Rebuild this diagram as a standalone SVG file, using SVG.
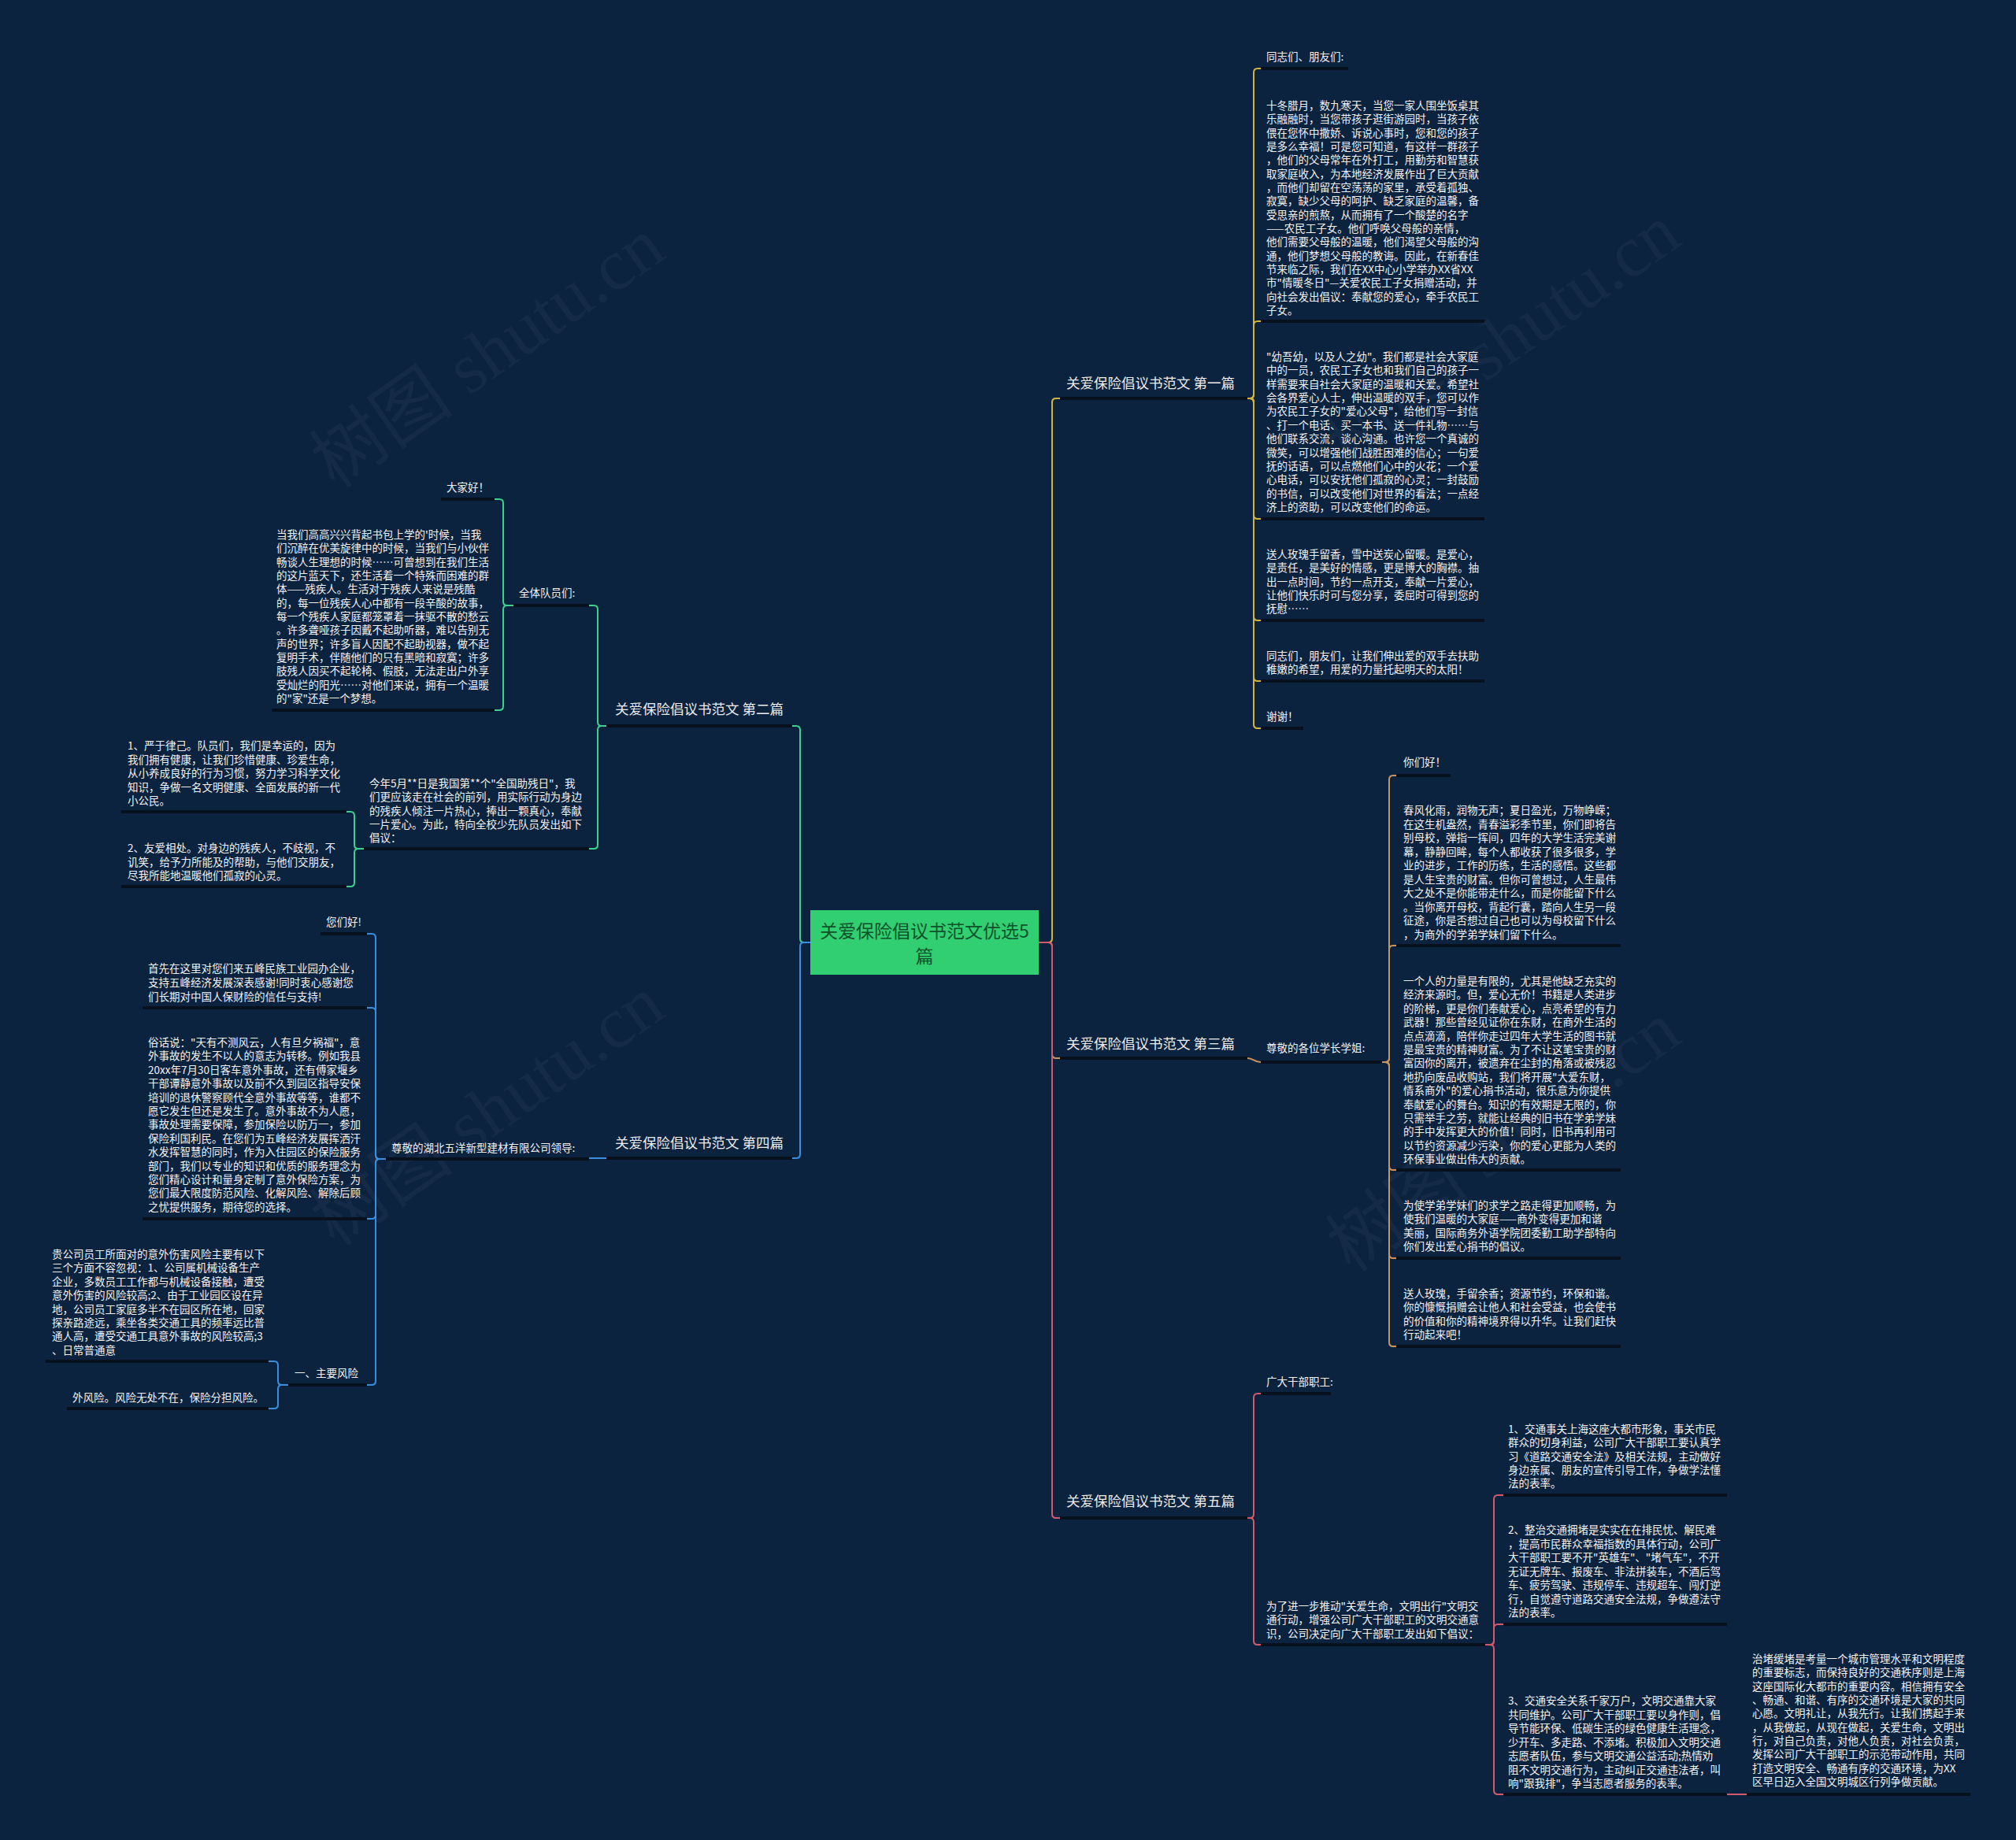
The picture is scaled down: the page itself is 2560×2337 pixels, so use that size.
<svg xmlns="http://www.w3.org/2000/svg" width="2560" height="2337" viewBox="0 0 2560 2337">
<style>
.t{font-family:"Noto Sans CJK SC","Noto Sans",sans-serif;font-size:13.5px;fill:#f2f2f2}
.b{font-family:"Noto Sans CJK SC","Noto Sans",sans-serif;font-size:17.5px;fill:#ececec}
.ul{stroke:#07101d;stroke-width:4;fill:none}
.c{fill:none;stroke-width:2}
.y{stroke:#d4b43c}.g{stroke:#3fcf8e}.o{stroke:#c9955f}.bl{stroke:#3b8ede}.r{stroke:#d25a6a}
.wm{font-family:"Liberation Serif","Noto Sans CJK SC",serif;font-size:92px;fill:#ffffff;fill-opacity:0.035}
</style>
<rect width="2560" height="2337" fill="#0c2340"/>
<g id="watermarks">
<text class="wm" transform="translate(637,474) rotate(-35)" text-anchor="middle">树图 shutu.cn</text>
<text class="wm" transform="translate(1927,457) rotate(-35)" text-anchor="middle">树图 shutu.cn</text>
<text class="wm" transform="translate(637,1437) rotate(-35)" text-anchor="middle">树图 shutu.cn</text>
<text class="wm" transform="translate(1927,1470) rotate(-35)" text-anchor="middle">树图 shutu.cn</text>
</g>
<g id="connectors">
<path class="c y" d="M1319,1197 H1331 Q1336,1197 1336,1192 V511 Q1336,506 1341,506 H1346"/>
<path class="c o" d="M1319,1197 H1331 Q1336,1197 1336,1202 V1339 Q1336,1344 1341,1344 H1346"/>
<path class="c r" d="M1319,1197 H1331 Q1336,1197 1336,1202 V1923 Q1336,1928 1341,1928 H1346"/>
<path class="c g" d="M1029,1197 H1021 Q1016,1197 1016,1192 V927 Q1016,922 1011,922 H1006"/>
<path class="c bl" d="M1029,1197 H1021 Q1016,1197 1016,1202 V1466 Q1016,1471 1011,1471 H1006"/>
<path class="c y" d="M1584,506 H1587 Q1592,506 1592,501 V92 Q1592,87 1597,87 H1601"/>
<path class="c y" d="M1584,506 H1587 Q1592,506 1592,501 V413 Q1592,408 1597,408 H1601"/>
<path class="c y" d="M1584,506 H1587 Q1592,506 1592,511 V654 Q1592,659 1597,659 H1601"/>
<path class="c y" d="M1584,506 H1587 Q1592,506 1592,511 V783 Q1592,788 1597,788 H1601"/>
<path class="c y" d="M1584,506 H1587 Q1592,506 1592,511 V860 Q1592,865 1597,865 H1601"/>
<path class="c y" d="M1584,506 H1587 Q1592,506 1592,511 V920 Q1592,925 1597,925 H1601"/>
<path class="c o" d="M1584,1344 C1592,1344 1592,1349 1601,1349"/>
<path class="c o" d="M1755,1349 H1759 Q1764,1349 1764,1344 V990 Q1764,985 1769,985 H1773"/>
<path class="c o" d="M1755,1349 H1759 Q1764,1349 1764,1344 V1206 Q1764,1201 1769,1201 H1773"/>
<path class="c o" d="M1755,1349 H1759 Q1764,1349 1764,1354 V1481 Q1764,1486 1769,1486 H1773"/>
<path class="c o" d="M1755,1349 H1759 Q1764,1349 1764,1354 V1593 Q1764,1598 1769,1598 H1773"/>
<path class="c o" d="M1755,1349 H1759 Q1764,1349 1764,1354 V1705 Q1764,1710 1769,1710 H1773"/>
<path class="c r" d="M1584,1928 H1587 Q1592,1928 1592,1923 V1775 Q1592,1770 1597,1770 H1601"/>
<path class="c r" d="M1584,1928 H1587 Q1592,1928 1592,1933 V2084 Q1592,2089 1597,2089 H1601"/>
<path class="c r" d="M1886,2089 H1892 Q1897,2089 1897,2084 V1904 Q1897,1899 1902,1899 H1909"/>
<path class="c r" d="M1886,2089 H1892 Q1897,2089 1897,2084 V2068 Q1897,2063 1902,2063 H1909"/>
<path class="c r" d="M1886,2089 H1892 Q1897,2089 1897,2094 V2274 Q1897,2279 1902,2279 H1909"/>
<path class="c r" d="M2193,2279 H2218"/>
<path class="c g" d="M770,922 H764 Q759,922 759,917 V774 Q759,769 754,769 H748"/>
<path class="c g" d="M770,922 H764 Q759,922 759,927 V1073 Q759,1078 754,1078 H748"/>
<path class="c g" d="M652,769 H644 Q639,769 639,764 V639 Q639,634 634,634 H628"/>
<path class="c g" d="M652,769 H644 Q639,769 639,774 V897 Q639,902 634,902 H628"/>
<path class="c g" d="M462,1078 H455 Q450,1078 450,1073 V1036 Q450,1031 445,1031 H440"/>
<path class="c g" d="M462,1078 H455 Q450,1078 450,1083 V1121 Q450,1126 445,1126 H440"/>
<path class="c bl" d="M770,1471 H748"/>
<path class="c bl" d="M490,1472 H482 Q477,1472 477,1467 V1191 Q477,1186 472,1186 H466"/>
<path class="c bl" d="M490,1472 H482 Q477,1472 477,1467 V1285 Q477,1280 472,1280 H466"/>
<path class="c bl" d="M490,1472 H482 Q477,1472 477,1477 V1543 Q477,1548 472,1548 H466"/>
<path class="c bl" d="M490,1472 H482 Q477,1472 477,1477 V1754 Q477,1759 472,1759 H466"/>
<path class="c bl" d="M366,1759 H358 Q353,1759 353,1754 V1734 Q353,1729 348,1729 H341"/>
<path class="c bl" d="M366,1759 H358 Q353,1759 353,1764 V1784 Q353,1789 348,1789 H341"/>
</g>
<g id="center">
<rect x="1029" y="1156" width="290" height="82" fill="#31cf72"/>
<text x="1174" y="1191" text-anchor="middle" style="font-family:'Noto Sans CJK SC','Noto Sans',sans-serif;font-size:23px;fill:#0f5229">关爱保险倡议书范文优选5<tspan x="1174" dy="32">篇</tspan></text>
</g>
<g id="branch1"><line class="ul" x1="1346" y1="506" x2="1584" y2="506"/><text class="b" x="1354" y="493">关爱保险倡议书范文 第一篇</text></g>
<g id="branch2"><line class="ul" x1="770" y1="922" x2="1006" y2="922"/><text class="b" x="781" y="907">关爱保险倡议书范文 第二篇</text></g>
<g id="branch3"><line class="ul" x1="1346" y1="1344" x2="1584" y2="1344"/><text class="b" x="1354" y="1332">关爱保险倡议书范文 第三篇</text></g>
<g id="branch4"><line class="ul" x1="770" y1="1471" x2="1006" y2="1471"/><text class="b" x="781" y="1458">关爱保险倡议书范文 第四篇</text></g>
<g id="branch5"><line class="ul" x1="1346" y1="1928" x2="1584" y2="1928"/><text class="b" x="1354" y="1913">关爱保险倡议书范文 第五篇</text></g>
<g id="n1a"><line class="ul" x1="1601" y1="87" x2="1712" y2="87"/><text class="t" x="1608" y="77">同志们、朋友们:</text></g>
<g id="n1b"><line class="ul" x1="1601" y1="408" x2="1885" y2="408"/><text class="t" x="1608" y="139">十冬腊月，数九寒天，当您一家人围坐饭桌其<tspan x="1608" dy="17.33">乐融融时，当您带孩子逛街游园时，当孩子依</tspan><tspan x="1608" dy="17.33">偎在您怀中撒娇、诉说心事时，您和您的孩子</tspan><tspan x="1608" dy="17.33">是多么幸福！可是您可知道，有这样一群孩子</tspan><tspan x="1608" dy="17.33">，他们的父母常年在外打工，用勤劳和智慧获</tspan><tspan x="1608" dy="17.33">取家庭收入，为本地经济发展作出了巨大贡献</tspan><tspan x="1608" dy="17.33">，而他们却留在空荡荡的家里，承受着孤独、</tspan><tspan x="1608" dy="17.33">寂寞，缺少父母的呵护、缺乏家庭的温馨，备</tspan><tspan x="1608" dy="17.33">受思亲的煎熬，从而拥有了一个酸楚的名字</tspan><tspan x="1608" dy="17.33">——农民工子女。他们呼唤父母般的亲情，</tspan><tspan x="1608" dy="17.33">他们需要父母般的温暖，他们渴望父母般的沟</tspan><tspan x="1608" dy="17.33">通，他们梦想父母般的教诲。因此，在新春佳</tspan><tspan x="1608" dy="17.33">节来临之际，我们在XX中心小学举办XX省XX</tspan><tspan x="1608" dy="17.33">市"情暖冬日"—关爱农民工子女捐赠活动，并</tspan><tspan x="1608" dy="17.33">向社会发出倡议：奉献您的爱心，牵手农民工</tspan><tspan x="1608" dy="17.33">子女。</tspan></text></g>
<g id="n1c"><line class="ul" x1="1601" y1="659" x2="1885" y2="659"/><text class="t" x="1608" y="458">"幼吾幼，以及人之幼"。我们都是社会大家庭<tspan x="1608" dy="17.36">中的一员，农民工子女也和我们自己的孩子一</tspan><tspan x="1608" dy="17.36">样需要来自社会大家庭的温暖和关爱。希望社</tspan><tspan x="1608" dy="17.36">会各界爱心人士，伸出温暖的双手，您可以作</tspan><tspan x="1608" dy="17.36">为农民工子女的"爱心父母"，给他们写一封信</tspan><tspan x="1608" dy="17.36">、打一个电话、买一本书、送一件礼物……与</tspan><tspan x="1608" dy="17.36">他们联系交流，谈心沟通。也许您一个真诚的</tspan><tspan x="1608" dy="17.36">微笑，可以增强他们战胜困难的信心；一句爱</tspan><tspan x="1608" dy="17.36">抚的话语，可以点燃他们心中的火花；一个爱</tspan><tspan x="1608" dy="17.36">心电话，可以安抚他们孤寂的心灵；一封鼓励</tspan><tspan x="1608" dy="17.36">的书信，可以改变他们对世界的看法；一点经</tspan><tspan x="1608" dy="17.36">济上的资助，可以改变他们的命运。</tspan></text></g>
<g id="n1d"><line class="ul" x1="1601" y1="788" x2="1885" y2="788"/><text class="t" x="1608" y="709">送人玫瑰手留香，雪中送炭心留暖。是爱心，<tspan x="1608" dy="17.3">是责任，是美好的情感，更是博大的胸襟。抽</tspan><tspan x="1608" dy="17.3">出一点时间，节约一点开支，奉献一片爱心，</tspan><tspan x="1608" dy="17.3">让他们快乐时可与您分享，委屈时可得到您的</tspan><tspan x="1608" dy="17.3">抚慰……</tspan></text></g>
<g id="n1e"><line class="ul" x1="1601" y1="865" x2="1885" y2="865"/><text class="t" x="1608" y="838">同志们，朋友们，让我们伸出爱的双手去扶助<tspan x="1608" dy="17.4">稚嫩的希望，用爱的力量托起明天的太阳！</tspan></text></g>
<g id="n1f"><line class="ul" x1="1601" y1="925" x2="1655" y2="925"/><text class="t" x="1608" y="915">谢谢！</text></g>
<g id="n3a"><line class="ul" x1="1601" y1="1349" x2="1755" y2="1349"/><text class="t" x="1608" y="1336">尊敬的各位学长学姐:</text></g>
<g id="n3b"><line class="ul" x1="1773" y1="985" x2="1842" y2="985"/><text class="t" x="1782" y="973">你们好！</text></g>
<g id="n3c"><line class="ul" x1="1773" y1="1201" x2="2058" y2="1201"/><text class="t" x="1782" y="1034">春风化雨，润物无声；夏日盈光，万物峥嵘；<tspan x="1782" dy="17.5">在这生机盎然，青春溢彩季节里，你们即将告</tspan><tspan x="1782" dy="17.5">别母校，弹指一挥间，四年的大学生活完美谢</tspan><tspan x="1782" dy="17.5">幕，静静回眸，每个人都收获了很多很多，学</tspan><tspan x="1782" dy="17.5">业的进步，工作的历练，生活的感悟。这些都</tspan><tspan x="1782" dy="17.5">是人生宝贵的财富。但你可曾想过，人生最伟</tspan><tspan x="1782" dy="17.5">大之处不是你能带走什么，而是你能留下什么</tspan><tspan x="1782" dy="17.5">。当你离开母校，背起行囊，踏向人生另一段</tspan><tspan x="1782" dy="17.5">征途，你是否想过自己也可以为母校留下什么</tspan><tspan x="1782" dy="17.5">，为商外的学弟学妹们留下什么。</tspan></text></g>
<g id="n3d"><line class="ul" x1="1773" y1="1486" x2="2058" y2="1486"/><text class="t" x="1782" y="1251">一个人的力量是有限的，尤其是他缺乏充实的<tspan x="1782" dy="17.4">经济来源时。但，爱心无价！书籍是人类进步</tspan><tspan x="1782" dy="17.4">的阶梯，更是你们奉献爱心，点亮希望的有力</tspan><tspan x="1782" dy="17.4">武器！那些曾经见证你在东财，在商外生活的</tspan><tspan x="1782" dy="17.4">点点滴滴，陪伴你走过四年大学生活的图书就</tspan><tspan x="1782" dy="17.4">是最宝贵的精神财富。为了不让这笔宝贵的财</tspan><tspan x="1782" dy="17.4">富因你的离开，被遗弃在尘封的角落或被残忍</tspan><tspan x="1782" dy="17.4">地扔向废品收购站，我们将开展"大爱东财，</tspan><tspan x="1782" dy="17.4">情系商外"的爱心捐书活动，很乐意为你提供</tspan><tspan x="1782" dy="17.4">奉献爱心的舞台。知识的有效期是无限的，你</tspan><tspan x="1782" dy="17.4">只需举手之劳，就能让经典的旧书在学弟学妹</tspan><tspan x="1782" dy="17.4">的手中发挥更大的价值！同时，旧书再利用可</tspan><tspan x="1782" dy="17.4">以节约资源减少污染，你的爱心更能为人类的</tspan><tspan x="1782" dy="17.4">环保事业做出伟大的贡献。</tspan></text></g>
<g id="n3e"><line class="ul" x1="1773" y1="1598" x2="2058" y2="1598"/><text class="t" x="1782" y="1536">为使学弟学妹们的求学之路走得更加顺畅，为<tspan x="1782" dy="17.4">使我们温暖的大家庭——商外变得更加和谐</tspan><tspan x="1782" dy="17.4">美丽，国际商务外语学院团委勤工助学部特向</tspan><tspan x="1782" dy="17.4">你们发出爱心捐书的倡议。</tspan></text></g>
<g id="n3f"><line class="ul" x1="1773" y1="1710" x2="2058" y2="1710"/><text class="t" x="1782" y="1648">送人玫瑰，手留余香；资源节约，环保和谐。<tspan x="1782" dy="17.4">你的慷慨捐赠会让他人和社会受益，也会使书</tspan><tspan x="1782" dy="17.4">的价值和你的精神境界得以升华。让我们赶快</tspan><tspan x="1782" dy="17.4">行动起来吧！</tspan></text></g>
<g id="n5a"><line class="ul" x1="1601" y1="1770" x2="1690" y2="1770"/><text class="t" x="1608" y="1760">广大干部职工:</text></g>
<g id="n5b"><line class="ul" x1="1601" y1="2089" x2="1886" y2="2089"/><text class="t" x="1608" y="2045">为了进一步推动"关爱生命，文明出行"文明交<tspan x="1608" dy="17.4">通行动，增强公司广大干部职工的文明交通意</tspan><tspan x="1608" dy="17.4">识，公司决定向广大干部职工发出如下倡议：</tspan></text></g>
<g id="n5c"><line class="ul" x1="1909" y1="1899" x2="2193" y2="1899"/><text class="t" x="1915" y="1820">1、交通事关上海这座大都市形象，事关市民<tspan x="1915" dy="17.3">群众的切身利益，公司广大干部职工要认真学</tspan><tspan x="1915" dy="17.3">习《道路交通安全法》及相关法规，主动做好</tspan><tspan x="1915" dy="17.3">身边亲属、朋友的宣传引导工作，争做学法懂</tspan><tspan x="1915" dy="17.3">法的表率。</tspan></text></g>
<g id="n5d"><line class="ul" x1="1909" y1="2063" x2="2193" y2="2063"/><text class="t" x="1915" y="1948">2、整治交通拥堵是实实在在排民忧、解民难<tspan x="1915" dy="17.5">，提高市民群众幸福指数的具体行动，公司广</tspan><tspan x="1915" dy="17.5">大干部职工要不开"英雄车"、"堵气车"，不开</tspan><tspan x="1915" dy="17.5">无证无牌车、报废车、非法拼装车，不酒后驾</tspan><tspan x="1915" dy="17.5">车、疲劳驾驶、违规停车、违规超车、闯灯逆</tspan><tspan x="1915" dy="17.5">行，自觉遵守道路交通安全法规，争做遵法守</tspan><tspan x="1915" dy="17.5">法的表率。</tspan></text></g>
<g id="n5e"><line class="ul" x1="1909" y1="2279" x2="2193" y2="2279"/><text class="t" x="1915" y="2165">3、交通安全关系千家万户，文明交通靠大家<tspan x="1915" dy="17.5">共同维护。公司广大干部职工要以身作则，倡</tspan><tspan x="1915" dy="17.5">导节能环保、低碳生活的绿色健康生活理念，</tspan><tspan x="1915" dy="17.5">少开车、多走路、不添堵。积极加入文明交通</tspan><tspan x="1915" dy="17.5">志愿者队伍，参与文明交通公益活动;热情劝</tspan><tspan x="1915" dy="17.5">阻不文明交通行为，主动纠正交通违法者，叫</tspan><tspan x="1915" dy="17.5">响"跟我排"，争当志愿者服务的表率。</tspan></text></g>
<g id="n5f"><line class="ul" x1="2218" y1="2279" x2="2502" y2="2279"/><text class="t" x="2225" y="2112">治堵缓堵是考量一个城市管理水平和文明程度<tspan x="2225" dy="17.33">的重要标志，而保持良好的交通秩序则是上海</tspan><tspan x="2225" dy="17.33">这座国际化大都市的重要内容。相信拥有安全</tspan><tspan x="2225" dy="17.33">、畅通、和谐、有序的交通环境是大家的共同</tspan><tspan x="2225" dy="17.33">心愿。文明礼让，从我先行。让我们携起手来</tspan><tspan x="2225" dy="17.33">，从我做起，从现在做起，关爱生命，文明出</tspan><tspan x="2225" dy="17.33">行，对自己负责，对他人负责，对社会负责，</tspan><tspan x="2225" dy="17.33">发挥公司广大干部职工的示范带动作用，共同</tspan><tspan x="2225" dy="17.33">打造文明安全、畅通有序的交通环境，为XX</tspan><tspan x="2225" dy="17.33">区早日迈入全国文明城区行列争做贡献。</tspan></text></g>
<g id="n2a"><line class="ul" x1="652" y1="769" x2="748" y2="769"/><text class="t" x="659" y="758">全体队员们:</text></g>
<g id="n2b"><line class="ul" x1="560" y1="634" x2="628" y2="634"/><text class="t" x="567" y="624">大家好！</text></g>
<g id="n2c"><line class="ul" x1="345" y1="902" x2="628" y2="902"/><text class="t" x="351" y="684">当我们高高兴兴背起书包上学的'时候，当我<tspan x="351" dy="17.33">们沉醉在优美旋律中的时候，当我们与小伙伴</tspan><tspan x="351" dy="17.33">畅谈人生理想的时候……可曾想到在我们生活</tspan><tspan x="351" dy="17.33">的这片蓝天下，还生活着一个特殊而困难的群</tspan><tspan x="351" dy="17.33">体——残疾人。生活对于残疾人来说是残酷</tspan><tspan x="351" dy="17.33">的，每一位残疾人心中都有一段辛酸的故事，</tspan><tspan x="351" dy="17.33">每一个残疾人家庭都笼罩着一抹驱不散的愁云</tspan><tspan x="351" dy="17.33">。许多聋哑孩子因戴不起助听器，难以告别无</tspan><tspan x="351" dy="17.33">声的世界；许多盲人因配不起助视器，做不起</tspan><tspan x="351" dy="17.33">复明手术，伴随他们的只有黑暗和寂寞；许多</tspan><tspan x="351" dy="17.33">肢残人因买不起轮椅、假肢，无法走出户外享</tspan><tspan x="351" dy="17.33">受灿烂的阳光……对他们来说，拥有一个温暖</tspan><tspan x="351" dy="17.33">的"家"还是一个梦想。</tspan></text></g>
<g id="n2d"><line class="ul" x1="462" y1="1078" x2="748" y2="1078"/><text class="t" x="469" y="1000">今年5月**日是我国第**个"全国助残日"，我<tspan x="469" dy="17.3">们更应该走在社会的前列，用实际行动为身边</tspan><tspan x="469" dy="17.3">的残疾人倾注一片热心，捧出一颗真心，奉献</tspan><tspan x="469" dy="17.3">一片爱心。为此，特向全校少先队员发出如下</tspan><tspan x="469" dy="17.3">倡议：</tspan></text></g>
<g id="n2e"><line class="ul" x1="154" y1="1031" x2="440" y2="1031"/><text class="t" x="162" y="952">1、严于律己。队员们，我们是幸运的，因为<tspan x="162" dy="17.5">我们拥有健康，让我们珍惜健康、珍爱生命，</tspan><tspan x="162" dy="17.5">从小养成良好的行为习惯，努力学习科学文化</tspan><tspan x="162" dy="17.5">知识，争做一名文明健康、全面发展的新一代</tspan><tspan x="162" dy="17.5">小公民。</tspan></text></g>
<g id="n2f"><line class="ul" x1="154" y1="1126" x2="440" y2="1126"/><text class="t" x="162" y="1082">2、友爱相处。对身边的残疾人，不歧视，不<tspan x="162" dy="17.5">讥笑，给予力所能及的帮助，与他们交朋友，</tspan><tspan x="162" dy="17.5">尽我所能地温暖他们孤寂的心灵。</tspan></text></g>
<g id="n4a"><line class="ul" x1="490" y1="1472" x2="748" y2="1472"/><text class="t" x="497" y="1463">尊敬的湖北五洋新型建材有限公司领导:</text></g>
<g id="n4b"><line class="ul" x1="407" y1="1186" x2="466" y2="1186"/><text class="t" x="414" y="1176">您们好!</text></g>
<g id="n4c"><line class="ul" x1="181" y1="1280" x2="466" y2="1280"/><text class="t" x="188" y="1235">首先在这里对您们来五峰民族工业园办企业，<tspan x="188" dy="18">支持五峰经济发展深表感谢!同时衷心感谢您</tspan><tspan x="188" dy="18">们长期对中国人保财险的信任与支持!</tspan></text></g>
<g id="n4d"><line class="ul" x1="181" y1="1548" x2="466" y2="1548"/><text class="t" x="188" y="1329">俗话说："天有不测风云，人有旦夕祸福"，意<tspan x="188" dy="17.4">外事故的发生不以人的意志为转移。例如我县</tspan><tspan x="188" dy="17.4">20xx年7月30日客车意外事故，还有傅家堰乡</tspan><tspan x="188" dy="17.4">干部谭静意外事故以及前不久到园区指导安保</tspan><tspan x="188" dy="17.4">培训的退休警察顾代全意外事故等等，谁都不</tspan><tspan x="188" dy="17.4">愿它发生但还是发生了。意外事故不为人愿，</tspan><tspan x="188" dy="17.4">事故处理需要保障，参加保险以防万一，参加</tspan><tspan x="188" dy="17.4">保险利国利民。在您们为五峰经济发展挥洒汗</tspan><tspan x="188" dy="17.4">水发挥智慧的同时，作为入住园区的保险服务</tspan><tspan x="188" dy="17.4">部门，我们以专业的知识和优质的服务理念为</tspan><tspan x="188" dy="17.4">您们精心设计和量身定制了意外保险方案，为</tspan><tspan x="188" dy="17.4">您们最大限度防范风险、化解风险、解除后顾</tspan><tspan x="188" dy="17.4">之忧提供服务，期待您的选择。</tspan></text></g>
<g id="n4e"><line class="ul" x1="366" y1="1759" x2="466" y2="1759"/><text class="t" x="374" y="1749">一、主要风险</text></g>
<g id="n4f"><line class="ul" x1="58" y1="1729" x2="341" y2="1729"/><text class="t" x="66" y="1598">贵公司员工所面对的意外伤害风险主要有以下<tspan x="66" dy="17.4">三个方面不容忽视：1、公司属机械设备生产</tspan><tspan x="66" dy="17.4">企业，多数员工工作都与机械设备接触，遭受</tspan><tspan x="66" dy="17.4">意外伤害的风险较高;2、由于工业园区设在异</tspan><tspan x="66" dy="17.4">地，公司员工家庭多半不在园区所在地，回家</tspan><tspan x="66" dy="17.4">探亲路途远，乘坐各类交通工具的频率远比普</tspan><tspan x="66" dy="17.4">通人高，遭受交通工具意外事故的风险较高;3</tspan><tspan x="66" dy="17.4">、日常普通意</tspan></text></g>
<g id="n4g"><line class="ul" x1="85" y1="1789" x2="341" y2="1789"/><text class="t" x="92" y="1780">外风险。风险无处不在，保险分担风险。</text></g>
</svg>
